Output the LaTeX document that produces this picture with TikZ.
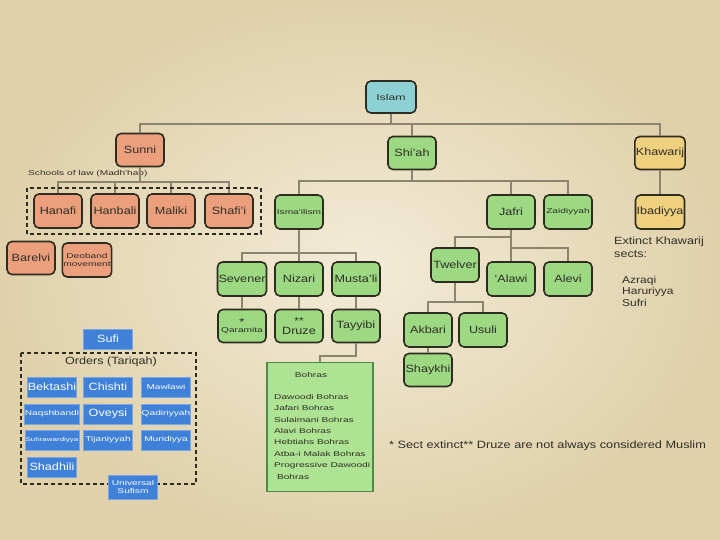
\documentclass[tikz,border=0pt]{standalone}
\usepackage{fontspec}
\setmainfont{Liberation Sans}[FakeStretch=1.2]
\newfontfamily\widefont{Liberation Sans}[FakeStretch=1.45]
\usetikzlibrary{positioning}

\definecolor{paper}{HTML}{EDE3C6}
\definecolor{paperedge}{HTML}{E0D1AB}
\definecolor{sunnicol}{HTML}{EB9F7C}
\definecolor{shiacol}{HTML}{9DD882}
\definecolor{bohracol}{HTML}{AEE394}
\definecolor{islamcol}{HTML}{8ED1D4}
\definecolor{khawcol}{HTML}{EFD07E}
\definecolor{suficol}{HTML}{3F80D9}
\definecolor{edgecol}{HTML}{2E2B20}
\definecolor{linkcol}{HTML}{8B8570}
\definecolor{inkcol}{HTML}{2F2F26}

\begin{document}
\begin{tikzpicture}[x=1pt,y=-1pt,
    sect/.style={draw=edgecol, line width=1.6pt, rounded corners=5pt, minimum width=48pt,
        minimum height=33pt, inner sep=1pt, text=inkcol, font=\fontsize{10.5}{11}\selectfont},
    sunni/.style={sect, fill=sunnicol},
    shia/.style={sect, fill=shiacol},
    khaw/.style={sect, fill=khawcol},
    smalltxt/.style={font=\widefont\fontsize{7}{8}\selectfont},
    order/.style={fill=suficol, draw=suficol!70!white, line width=0.6pt, minimum width=49pt,
        minimum height=20pt, inner sep=0.5pt, text=white, font=\fontsize{10.5}{11}\selectfont},
    ordersmall/.style={order, font=\widefont\fontsize{7}{8}\selectfont},
    ordertiny/.style={order, font=\widefont\fontsize{5.5}{6}\selectfont},
    link/.style={draw=linkcol, line width=1.3pt},
    dashbox/.style={draw=edgecol, line width=1.1pt, dash pattern=on 4pt off 3pt},
    plaintxt/.style={text=inkcol, inner sep=0pt}
]
% background
\shade[inner color=paper!70!white, outer color=paperedge] (0,0) rectangle (720,540);

% top level
\node[sect, fill=islamcol, minimum width=50pt, minimum height=32pt,
    font=\widefont\fontsize{8.5}{10}\selectfont] (islam) at (391,97) {Islam};
\node[sunni] (sunni) at (140,150) {Sunni};
\node[shia] (shiah) at (412,153) {Shi'ah};
\node[khaw] (khawarij) at (660,153) {Khawarij};

\coordinate (islambus) at (391,124);
\draw[link] (islam.south) -- (islambus);
\foreach \n in {sunni,shiah,khawarij}
    \draw[link] (islambus) -| (\n.north);

% Sunni
\node[plaintxt, smalltxt, anchor=west] (madhhab) at (28,174) {Schools of law (Madh'hab)};
\foreach \x/\n/\t in {58/hanafi/Hanafi, 115/hanbali/Hanbali, 171/maliki/Maliki, 229/shafii/Shafi'i}
    \node[sunni, minimum height=34pt] (\n) at (\x,211) {\t};
\coordinate (sunnibus) at (140,182);
\draw[link] (sunni.south) -- (sunnibus);
\foreach \n in {hanafi,hanbali,maliki,shafii}
    \draw[link] (sunnibus) -| (\n.north);
\draw[dashbox] (27,188) rectangle (261,234);

\node[sunni] (barelvi) at (31,258) {Barelvi};
\node[sunni, smalltxt, align=center, minimum height=34pt] (deoband) at (87,260) {Deoband\\movement};

% Shi'ah
\node[shia, smalltxt, minimum height=34pt] (ismaili) at (299,212) {Isma'ilism};
\node[shia, minimum height=34pt] (jafri) at (511,212) {Jafri};
\node[shia, smalltxt, minimum height=34pt] (zaidi) at (568,212) {Zaidiyyah};
\node[khaw, minimum height=34pt] (ibadi) at (660,212) {Ibadiyya};

\coordinate (shiabus) at (412,181);
\draw[link] (shiah.south) -- (shiabus);
\foreach \n in {ismaili,jafri,zaidi}
    \draw[link] (shiabus) -| (\n.north);
\draw[link] (khawarij) -- (ibadi);

% Isma'ilism
\node[shia, minimum height=34pt] (sevener) at (242,279) {Sevener};
\node[shia, minimum height=34pt] (nizari) at (299,279) {Nizari};
\node[shia, minimum height=34pt] (mustali) at (356,279) {Musta'li};
\node[shia, smalltxt, align=center] (qaramita) at (242,326)
    {{\fontsize{10}{8}\selectfont *}\\[-1pt]Qaramita};
\node[shia, align=center] (druze) at (299,326)
    {{\fontsize{10}{8}\selectfont **}\\[-1pt]Druze};
\node[shia] (tayyibi) at (356,326) {Tayyibi};

\coordinate (ismailibus) at (299,253);
\draw[link] (ismaili.south) -- (ismailibus);
\foreach \n in {sevener,nizari,mustali}
    \draw[link] (ismailibus) -| (\n.north);
\draw[link] (sevener) -- (qaramita);
\draw[link] (nizari) -- (druze);
\draw[link] (mustali) -- (tayyibi);

\node[draw=green!35!black!70, fill=bohracol, line width=1.2pt,
    minimum width=106pt, minimum height=129pt] (bohras) at (320,427) {};
\node[plaintxt, smalltxt] (bohrastitle) at (311,375) {Bohras};
\node[plaintxt, anchor=north west, align=left,
    font=\widefont\fontsize{7}{11.4}\selectfont] (bohraslist) at (274,394)
    {Dawoodi Bohras\\Jafari Bohras\\Sulaimani Bohras\\Alavi Bohras\\Hebtiahs Bohras\\
     Atba-i Malak Bohras\\Progressive Dawoodi\\\ Bohras};
\coordinate (tayyibibend) at (356,356);
\draw[link] (tayyibi.south) -- (tayyibibend) -| (bohras.north);

% Jafri
\node[shia, minimum height=34pt] (twelver) at (455,265) {Twelver};
\node[shia, minimum height=34pt] (alawi) at (511,279) {`Alawi};
\node[shia, minimum height=34pt] (alevi) at (568,279) {Alevi};
\node[shia, minimum height=34pt] (akbari) at (428,330) {Akbari};
\node[shia, minimum height=34pt] (usuli) at (483,330) {Usuli};
\node[shia] (shaykhi) at (428,370) {Shaykhi};

\draw[link] (jafri.south) -- (alawi.north);
\coordinate (twelverbus) at (511,237);
\coordinate (alevibus) at (511,248);
\draw[link] (twelverbus) -| (twelver.north);
\draw[link] (alevibus) -| (alevi.north);
\coordinate (akbaribus) at (455,302);
\draw[link] (twelver.south) -- (akbaribus);
\foreach \n in {akbari,usuli}
    \draw[link] (akbaribus) -| (\n.north);
\draw[link] (akbari) -- (shaykhi);

% notes
\node[plaintxt, anchor=north west, align=left, font=\fontsize{10.5}{12.5}\selectfont]
    (extinct) at (614,237) {Extinct Khawarij\\sects:};
\node[plaintxt, anchor=north west, align=left, font=\fontsize{10}{11.5}\selectfont]
    (khawsects) at (622,276) {Azraqi\\Haruriyya\\Sufri};
\node[plaintxt, anchor=west, font=\fontsize{10.6}{12}\selectfont]
    (footnote) at (389,446) {* Sect extinct** Druze are not always considered Muslim};

% Sufi
\node[order] (sufi) at (108,339) {Sufi};
\draw[dashbox] (21,353) rectangle (196,484);
\node[plaintxt, font=\fontsize{10.5}{11}\selectfont] (orders) at (111,362) {Orders (Tariqah)};
\foreach \x/\y/\s/\n/\t in {
    52/387/order/bektashi/Bektashi,
    108/387/order/chishti/Chishti,
    166/387/ordersmall/mawlawi/Mawlawi,
    52/414/ordersmall/naqshbandi/Naqshbandi,
    108/414/order/oveysi/Oveysi,
    166/414/ordersmall/qadiri/Qadiriyyah,
    52/440/ordertiny/suhrawardi/Suhrawardiyya,
    108/440/ordersmall/tijani/Tijaniyyah,
    166/440/ordersmall/muridi/Muridiyya,
    52/467/order/shadhili/Shadhili}
    \node[\s] (\n) at (\x,\y) {\t};
\node[ordersmall, align=center, minimum height=24pt] (universal) at (133,487) {Universal\\Sufism};

\end{tikzpicture}
\end{document}
